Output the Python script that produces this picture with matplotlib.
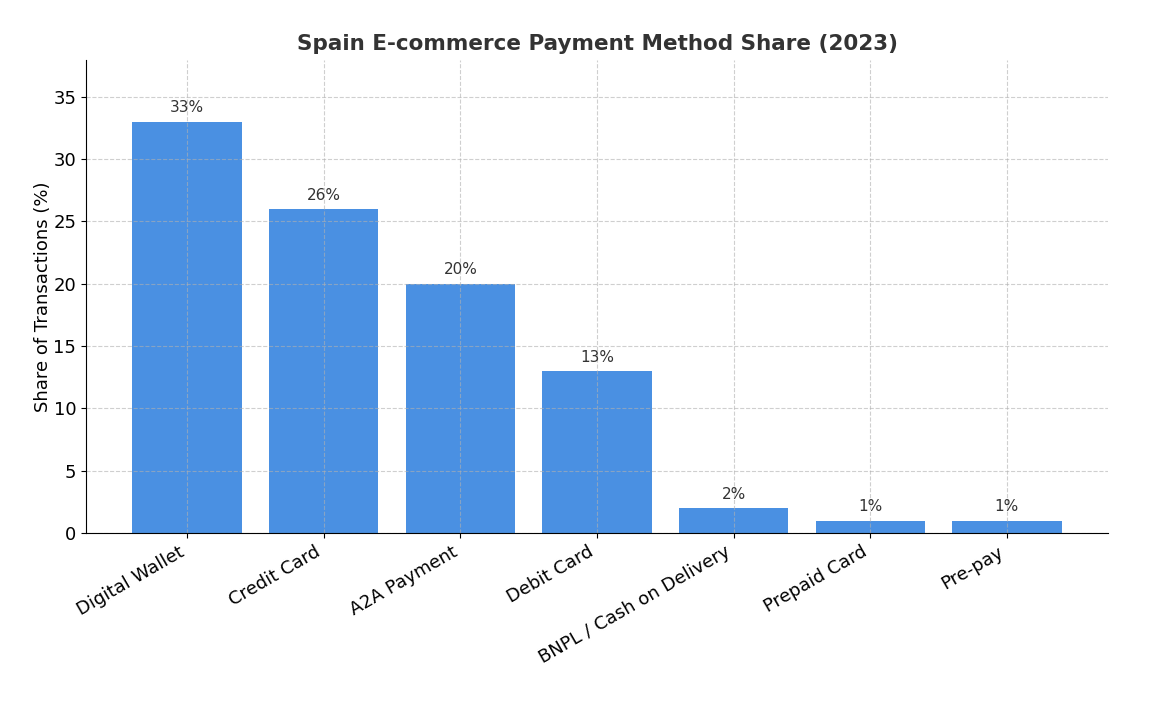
import matplotlib.pyplot as plt

# data
methods = ["Digital Wallet", "Credit Card", "A2A Payment", "Debit Card",
           "BNPL / Cash on Delivery", "Prepaid Card", "Pre-pay"]
shares = [33, 26, 20, 13, 2, 1, 1]

fig = plt.figure(figsize=(11.5, 7.04), dpi=100)
ax = fig.add_axes([0.0748, 0.2429, 0.8887, 0.6719])

bars = ax.bar(methods, shares, color='#4a90e2', width=0.8)

# value labels above each bar
for b, v in zip(bars, shares):
    ax.text(b.get_x() + b.get_width() / 2, v + 0.5, f"{v}%",
            ha='center', va='bottom', fontsize=11, color='#333333')

ax.set_ylim(0, max(shares) * 1.15)
ax.set_title("Spain E-commerce Payment Method Share (2023)",
             fontsize=15.5, fontweight='bold', color='#333333', pad=7)
ax.set_ylabel("Share of Transactions (%)", fontsize=13, labelpad=1)
plt.xticks(rotation=30, ha='right', fontsize=13)
plt.yticks(fontsize=13)
ax.grid(True, linestyle='--', alpha=0.6)
ax.spines['top'].set_visible(False)
ax.spines['right'].set_visible(False)

plt.savefig("out.png", dpi=100)
